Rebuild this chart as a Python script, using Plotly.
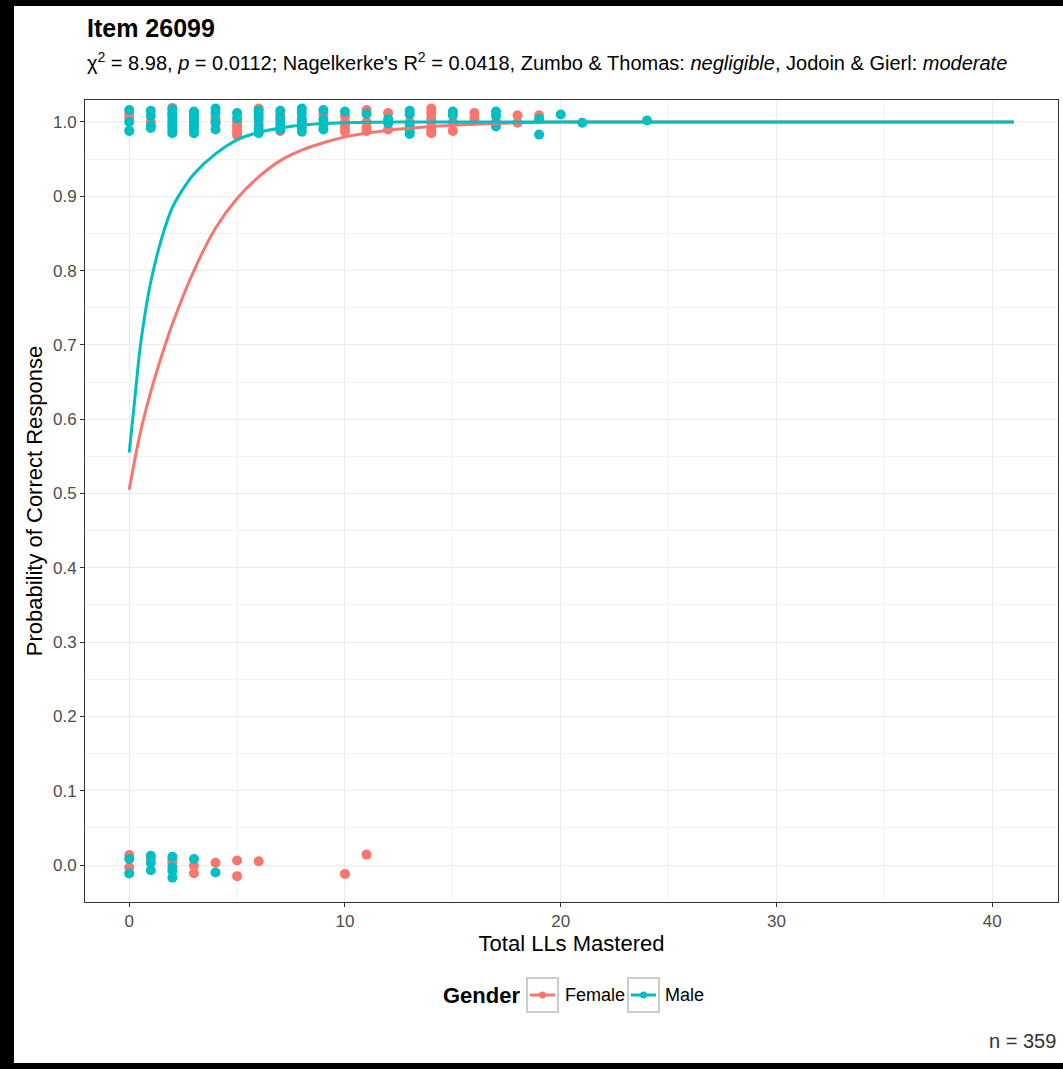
import plotly.graph_objects as go

# ---------------- data ----------------
# observed (jittered) responses, female
female_x = [0, 0, 1, 2, 2, 2, 3, 3, 4, 4, 4, 5, 5, 5, 5, 5, 6, 6, 7, 7, 8, 9, 9,
            10, 10, 10, 10, 10, 11, 11, 11, 11, 12, 12, 13, 14, 14, 14, 14, 14, 14, 14,
            15, 15, 16, 16, 17, 18, 18, 19,
            0, 0, 1, 2, 2, 3, 3, 4, 5, 5, 6, 10, 11]
female_y = [1.011, 1.006, 1.0, 1.019, 1.01, 0.995, 0.997, 1.005, 1.007, 0.998, 1.003,
            1.0, 0.995, 0.99, 0.985, 0.982, 1.018, 1.0, 1.01, 0.988, 1.0, 1.01, 0.995,
            1.008, 1.0, 0.995, 0.99, 0.987, 1.016, 1.0, 0.993, 0.988, 1.012, 0.99, 1.0,
            1.018, 1.012, 1.005, 1.0, 0.993, 0.988, 0.985,
            0.988, 1.0, 1.012, 1.005, 1.0, 1.009, 0.999, 1.009,
            0.0135, -0.0035, 0.009, 0.007, 0.003, -0.001, -0.011, 0.003, 0.006, -0.015,
            0.005, -0.012, 0.014]

# observed (jittered) responses, male
male_x = [0, 0, 0, 1, 1, 1, 1, 2, 2, 2, 2, 2, 2, 2, 2, 2, 3, 3, 3, 3, 3, 3, 3,
          4, 4, 4, 4, 5, 5, 6, 6, 6, 6, 6, 6, 7, 7, 7, 7, 7, 8, 8, 8, 8, 8, 8,
          9, 9, 9, 10, 11, 12, 12, 13, 13, 13, 13, 13, 15, 15, 17, 17, 17,
          19, 19, 20, 21, 24,
          0, 0, 1, 1, 1, 2, 2, 2, 2, 3, 4]
male_y = [1.016, 1.0, 0.988, 1.015, 1.008, 0.995, 0.992, 1.017, 1.012, 1.008, 1.004,
          1.0, 0.996, 0.992, 0.988, 0.985, 1.014, 1.01, 1.005, 1.0, 0.995, 0.99, 0.985,
          1.018, 1.012, 1.0, 0.99, 1.012, 1.005, 1.015, 1.01, 1.005, 0.995, 0.99, 0.985,
          1.015, 1.005, 1.0, 0.995, 0.99, 1.018, 1.012, 1.005, 1.0, 0.993, 0.987,
          1.016, 1.003, 0.99, 1.014, 1.011, 1.004, 0.998, 1.015, 1.01, 0.996, 0.988, 0.984,
          1.014, 1.009, 1.014, 1.008, 0.994,
          1.004, 0.983, 1.01, 0.999, 1.002,
          0.008, -0.0115, 0.0125, 0.003, -0.007, 0.011, -0.003, -0.008, -0.017, 0.008, -0.010]

# fitted probability curves
female_curve_x = [0, 0.5, 1, 1.5, 2, 3, 4, 5, 6, 7, 8, 9, 10, 12, 14, 16, 18, 20, 30, 41]
female_curve_y = [0.505, 0.58, 0.637, 0.685, 0.728, 0.80, 0.857, 0.897, 0.926, 0.948,
                  0.962, 0.972, 0.98, 0.989, 0.994, 0.997, 0.999, 1.0, 1.0, 1.0]
male_curve_x = [0, 0.25, 0.5, 0.75, 1, 1.5, 2, 2.5, 3, 4, 5, 6, 7, 8, 10, 12, 20, 30, 41]
male_curve_y = [0.555, 0.625, 0.695, 0.745, 0.785, 0.843, 0.885, 0.91, 0.93, 0.957, 0.976,
                0.986, 0.992, 0.996, 0.999, 1.0, 1.0, 1.0, 1.0]

x_ticks = [0, 10, 20, 30, 40]
y_ticks = [0.0, 0.1, 0.2, 0.3, 0.4, 0.5, 0.6, 0.7, 0.8, 0.9, 1.0]
groups = ["Female", "Male"]

FEMALE = "#F8766D"
MALE = "#00BFC4"
FONT = "Liberation Sans, Arial, sans-serif"

fig = go.Figure()
fig.add_trace(go.Scatter(x=female_x, y=female_y, mode="markers", name=groups[0],
                         marker=dict(color=FEMALE, size=10), showlegend=False, hoverinfo="skip"))
fig.add_trace(go.Scatter(x=male_x, y=male_y, mode="markers", name=groups[1],
                         marker=dict(color=MALE, size=10), showlegend=False, hoverinfo="skip"))
fig.add_trace(go.Scatter(x=female_curve_x, y=female_curve_y, mode="lines",
                         line=dict(color=FEMALE, width=3, shape="spline"), showlegend=False))
fig.add_trace(go.Scatter(x=male_curve_x, y=male_curve_y, mode="lines",
                         line=dict(color=MALE, width=3, shape="spline"), showlegend=False))

W, H = 1063, 1069
L, R, T, B = 85, 5, 100, 167
pw, ph = W - L - R, H - T - B


def px(xp):
    return (xp - L) / pw


def py(yp):
    return (H - B - yp) / ph


axis_common = dict(
    showgrid=True, gridcolor="#EBEBEB", gridwidth=1.2,
    zeroline=False, showline=True, linecolor="#333333", linewidth=1, mirror=True,
    ticks="outside", ticklen=4, tickcolor="#333333", tickwidth=1,
    tickfont=dict(family=FONT, size=17, color="#4D4D4D"),
)

shapes = [
    dict(type="rect", xref="paper", yref="paper", x0=px(0), x1=px(14), y0=py(H), y1=py(0),
         fillcolor="black", line=dict(width=0), layer="above"),
    dict(type="rect", xref="paper", yref="paper", x0=px(0), x1=px(W), y0=py(6), y1=py(0),
         fillcolor="black", line=dict(width=0), layer="above"),
    dict(type="rect", xref="paper", yref="paper", x0=px(0), x1=px(W), y0=py(H), y1=py(1063),
         fillcolor="black", line=dict(width=0), layer="above"),
]

annotations = [
    dict(text="<b>Item 26099</b>", x=0, y=py(28), xref="paper", yref="paper",
         xanchor="left", yanchor="middle", showarrow=False,
         font=dict(family=FONT, size=25, color="black")),
    dict(text="χ<sup>2</sup> = 8.98, <i>p</i> = 0.0112; Nagelkerke's R<sup>2</sup> = 0.0418, "
              "Zumbo &amp; Thomas: <i>negligible</i>, Jodoin &amp; Gierl: <i>moderate</i>",
         x=0, y=py(62), xref="paper", yref="paper",
         xanchor="left", yanchor="middle", showarrow=False,
         font=dict(family=FONT, size=20, color="black")),
    dict(text="n = 359", x=1, y=py(1041), xref="paper", yref="paper",
         xanchor="right", yanchor="middle", showarrow=False,
         font=dict(family=FONT, size=20, color="#333333")),
    dict(text="<b>Gender</b>", x=px(441), y=py(995), xref="paper", yref="paper",
         xanchor="left", yanchor="middle", showarrow=False,
         font=dict(family=FONT, size=22, color="black")),
]

# manual legend (ggplot-style keys with grey boxes)
legend_keys = [(groups[0], FEMALE, 527, 563), (groups[1], MALE, 628, 663)]
for label, col, kx, tx in legend_keys:
    shapes.append(dict(type="rect", xref="paper", yref="paper",
                       x0=px(kx), x1=px(kx + 31), y0=py(1012), y1=py(978),
                       line=dict(color="#CCCCCC", width=2), fillcolor="white"))
    shapes.append(dict(type="line", xref="paper", yref="paper",
                       x0=px(kx + 3), x1=px(kx + 28), y0=py(995), y1=py(995),
                       line=dict(color=col, width=3)))
    shapes.append(dict(type="circle", xref="paper", yref="paper",
                       x0=px(kx + 12), x1=px(kx + 19), y0=py(998.5), y1=py(991.5),
                       line=dict(color=col, width=0), fillcolor=col))
    annotations.append(dict(text=label, x=px(tx), y=py(995), xref="paper", yref="paper",
                            xanchor="left", yanchor="middle", showarrow=False,
                            font=dict(family=FONT, size=18, color="black")))

fig.update_layout(
    width=W, height=H,
    margin=dict(l=L, r=R, t=T, b=B),
    paper_bgcolor="white", plot_bgcolor="white",
    font=dict(family=FONT, color="black"),
    showlegend=False,
    xaxis=dict(range=[-2.05, 43.05], tickvals=x_ticks,
               minor=dict(dtick=5, tick0=0, showgrid=True, gridcolor="#F3F3F3", ticks=""),
               title=dict(text="Total LLs Mastered", font=dict(family=FONT, size=22, color="black"),
                          standoff=3),
               **axis_common),
    yaxis=dict(range=[-0.0498, 1.0296], tickvals=y_ticks, tickformat=".1f",
               minor=dict(dtick=0.05, tick0=0, showgrid=True, gridcolor="#F3F3F3", ticks=""),
               title=dict(text="Probability of Correct Response",
                          font=dict(family=FONT, size=22, color="black"), standoff=4),
               **axis_common),
    annotations=annotations,
    shapes=shapes,
)

fig.write_html("out.html", config={"displayModeBar": False},
               post_script="document.body.style.margin='0';document.body.style.overflow='hidden';")
